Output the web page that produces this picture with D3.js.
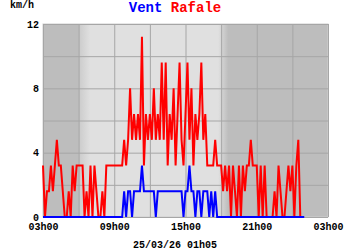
<!DOCTYPE html>
<html>
<head>
<meta charset="utf-8">
<script src="https://cdn.jsdelivr.net/npm/d3@7"></script>
<style>
  html, body { margin: 0; padding: 0; background: #fff; }
  #chart { width: 350px; height: 250px; }
  text { font-family: "Liberation Mono", "DejaVu Sans Mono", monospace; font-weight: bold; }
</style>
</head>
<body>
<div id="chart"></div>
<script>
// relevés toutes les 10 min à partir de 03h00 (km/h)
const startHour = 3;
const stepMin = 10;
const rafale = [
  3.2, 0, 1.6, 1.6, 3.2, 1.6, 3.2, 4.8, 3.2, 3.2, 1.6, 0, 0, 1.6, 0, 3.2, 1.6, 3.2,
  3.2, 3.2, 3.2, 0, 1.6, 0, 3.2, 0, 3.2, 1.6, 0, 0, 1.6, 0, 3.2, 3.2, 3.2, 3.2,
  3.2, 3.2, 3.2, 3.2, 3.2, 4.8, 3.2, 4.8, 8, 4.8, 6.4, 4.8, 6.4, 4.8, 11.2, 3.2, 6.4, 4.8,
  6.4, 4.8, 8, 4.8, 6.4, 4.8, 9.6, 4.8, 9.6, 3.2, 6.4, 4.8, 8, 3.2, 6.4, 9.6, 4.8, 3.2,
  6.4, 9.6, 4.8, 8, 3.2, 6.4, 4.8, 6.4, 9.6, 4.8, 6.4, 3.2, 3.2, 3.2, 3.2, 4.8, 3.2, 3.2,
  3.2, 1.6, 3.2, 1.6, 3.2, 0, 3.2, 1.6, 0, 3.2, 0, 3.2, 1.6, 3.2, 3.2, 4.8, 3.2, 3.2,
  3.2, 0, 3.2, 0, 3.2, 0, 0, 0, 0, 1.6, 0, 3.2, 1.6, 0, 0, 1.6, 3.2, 1.6,
  3.2, 0, 3.2, 4.8, 0
];
const vent = [
  0, 0, 0, 0, 0, 0, 0, 0, 0, 0, 0, 0, 0, 0, 0, 0, 0, 0,
  0, 0, 0, 0, 0, 0, 0, 0, 0, 0, 0, 0, 0, 0, 0, 0, 0, 0,
  0, 0, 0, 0, 0, 1.6, 0, 1.6, 1.6, 0, 1.6, 1.6, 1.6, 1.6, 3.2, 1.6, 1.6, 1.6,
  1.6, 1.6, 1.6, 0, 1.6, 1.6, 1.6, 1.6, 1.6, 1.6, 1.6, 1.6, 1.6, 1.6, 1.6, 1.6, 1.6, 0,
  1.6, 1.6, 3.2, 1.6, 1.6, 0, 1.6, 1.6, 0, 1.6, 1.6, 1.6, 0, 1.6, 0, 1.6, 0, 0,
  0, 0, 0, 0, 0, 0, 0, 0, 0, 0, 0, 0, 0, 0, 0, 0, 0, 0,
  0, 0, 0, 0, 0, 0, 0, 0, 0, 0, 0, 0, 0, 0, 0, 0, 0, 0,
  0, 0, 0, 0, 0, 0, 0
];
const xTickHours = [3, 9, 15, 21, 27];
const xTickLabels = ["03h00", "09h00", "15h00", "21h00", "03h00"];
const yTicks = [0, 4, 8, 12];
// jour / nuit (heures décimales)
const sunrise = [6.0, 7.0];
const sunset = [17.75, 18.6];
const stamp = "25/03/26 01h05";

const margin = {top: 24, right: 22, bottom: 33, left: 43};
const width_svg = 350, height_svg = 250;
const colorRule = {'Vent': '#0000ff', 'Rafale': '#ff0000'};

const svg = d3.select('#chart').append('svg')
  .attr('width', width_svg)
  .attr('height', height_svg);

const xScale = d3.scaleLinear()
  .domain([3, 27])
  .range([margin.left, width_svg - margin.right]);
const yScale = d3.scaleLinear()
  .domain([0, 12])
  .range([height_svg - margin.bottom, margin.top]);

// fond jour/nuit
const defs = svg.append('defs');
const grad = defs.append('linearGradient')
  .attr('id', 'daynight')
  .attr('gradientUnits', 'userSpaceOnUse')
  .attr('x1', xScale(3)).attr('x2', xScale(27))
  .attr('y1', 0).attr('y2', 0);
const pos = h => (h - 3) / 24;
[[pos(sunrise[0]), '#bdbdbd'], [pos(sunrise[0]), '#cbcbcb'], [pos(sunrise[1]), '#e0e0e0'],
 [pos(sunset[0]), '#e0e0e0'], [pos(sunset[1]), '#bdbdbd']]
  .forEach(s => grad.append('stop').attr('offset', s[0]).attr('stop-color', s[1]));

svg.append('rect')
  .attr('x', xScale(3)).attr('y', yScale(12))
  .attr('width', xScale(27) - xScale(3))
  .attr('height', yScale(0) - yScale(12))
  .attr('fill', 'url(#daynight)')
  .attr('stroke', '#cfcfcf');

// grille
const xGrid = g => g.attr('transform', `translate(0, ${yScale(0)})`)
  .call(d3.axisBottom(xScale).tickValues(d3.range(3, 28, 3)).tickSize(yScale(12) - yScale(0)).tickFormat(''))
  .call(g => g.select('.domain').remove())
  .call(g => g.selectAll('.tick line').attr('stroke', '#a6a6a6'));
const yGrid = g => g.attr('transform', `translate(${xScale(3)}, 0)`)
  .call(d3.axisRight(yScale).tickValues(d3.range(0, 13, 2)).tickSize(xScale(27) - xScale(3)).tickFormat(''))
  .call(g => g.select('.domain').remove())
  .call(g => g.selectAll('.tick line').attr('stroke', '#a6a6a6'));
svg.append('g').call(xGrid);
svg.append('g').call(yGrid);

// axes texte
const xAxis = g => g.attr('transform', `translate(0, ${yScale(0)})`)
  .call(d3.axisBottom(xScale).tickValues(xTickHours).tickSize(0).tickPadding(6)
    .tickFormat((d, i) => xTickLabels[i]))
  .call(g => g.select('.domain').remove())
  .call(g => g.selectAll('.tick text').attr('font-size', 10).attr('fill', '#000')
    .attr('font-family', '"Liberation Mono", monospace'));
const yAxis = g => g.attr('transform', `translate(${xScale(3) - 4}, 0)`)
  .call(d3.axisLeft(yScale).tickValues(yTicks).tickSize(0).tickPadding(0))
  .call(g => g.select('.domain').remove())
  .call(g => g.selectAll('.tick text').attr('font-size', 10).attr('fill', '#000')
    .attr('font-family', '"Liberation Mono", monospace'));
svg.append('g').call(xAxis);
svg.append('g').call(yAxis);

// courbes
const line = d3.line()
  .x((d, i) => xScale(startHour + i * stepMin / 60))
  .y(d => yScale(d));
svg.append('g')
  .attr('fill', 'none')
  .attr('stroke-width', 2)
  .attr('stroke-linejoin', 'miter')
  .selectAll('path')
  .data([{name: 'Rafale', value: rafale}, {name: 'Vent', value: vent}])
  .enter().append('path')
  .attr('stroke', d => colorRule[d.name])
  .attr('d', d => line(d.value));

// titres
svg.append('text')
  .attr('x', 10).attr('y', 8)
  .attr('font-size', 10)
  .text('km/h');
const title = svg.append('text')
  .attr('x', 175).attr('y', 12)
  .attr('text-anchor', 'middle')
  .attr('font-size', 14);
title.append('tspan').attr('fill', colorRule.Vent).text('Vent');
title.append('tspan').attr('fill', colorRule.Rafale).text(' Rafale');
svg.append('text')
  .attr('x', 175).attr('y', 248)
  .attr('text-anchor', 'middle')
  .attr('font-size', 10)
  .text(stamp);
</script>
</body>
</html>
